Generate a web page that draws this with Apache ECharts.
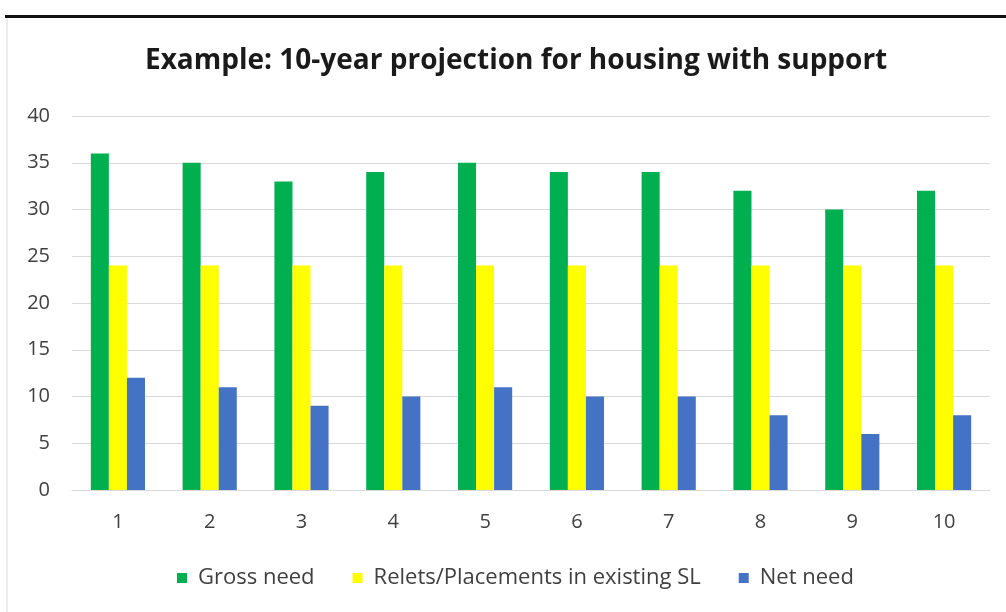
<!DOCTYPE html>
<html>
<head>
<meta charset="utf-8">
<script src="https://cdn.jsdelivr.net/npm/echarts@6/dist/echarts.min.js"></script>
<style>
  html, body { margin: 0; padding: 0; background: #ffffff; }
  #chart { width: 1006px; height: 612px; }
</style>
</head>
<body>
<div id="chart"></div>
<script>
// Ten-year projection: gross need, relets in existing supported lodgings, net need
const years = ['1', '2', '3', '4', '5', '6', '7', '8', '9', '10'];
const grossNeed = [36, 35, 33, 34, 35, 34, 34, 32, 30, 32];
const relets = [24, 24, 24, 24, 24, 24, 24, 24, 24, 24];
const netNeed = [12, 11, 9, 10, 11, 10, 10, 8, 6, 8];
const seriesNames = ['Gross need', 'Relets/Placements in existing SL', 'Net need'];
const seriesColors = ['#00b050', '#ffff00', '#4472c4'];

const chart = echarts.init(document.getElementById('chart'));
const font = '"Open Sans", "Noto Sans", sans-serif';

const barSeries = [grossNeed, relets, netNeed].map((data, i) => ({
  name: seriesNames[i],
  type: 'bar',
  data: data,
  itemStyle: { color: seriesColors[i] },
  barGap: '0%',
  barCategoryGap: '41%'
}));

chart.setOption({
  backgroundColor: '#ffffff',
  animation: false,
  textStyle: { fontFamily: font },
  graphic: [
    { type: 'rect', shape: { x: 7, y: 17, width: 1010, height: 600 },
      style: { fill: 'none', stroke: '#d9d9d9', lineWidth: 1 } },
    { type: 'rect', shape: { x: 5, y: 15, width: 1001, height: 3 },
      style: { fill: '#111111' } }
  ],
  title: {
    text: 'Example: 10-year projection for housing with support',
    left: 140,
    top: 42,
    textStyle: { fontFamily: font, fontSize: 28, fontWeight: 'bold', color: '#1a1a1a' }
  },
  legend: {
    bottom: 18,
    left: 172,
    itemWidth: 10,
    itemHeight: 10,
    itemGap: 38,
    icon: 'rect',
    textStyle: { fontFamily: font, fontSize: 22, color: '#404040', padding: [0, 0, 0, 6] },
    data: seriesNames
  },
  grid: { left: 72, right: 16, top: 116, bottom: 122 },
  xAxis: {
    type: 'category',
    data: years,
    axisTick: { show: false },
    axisLine: { lineStyle: { color: '#d9d9d9' } },
    axisLabel: { fontSize: 20, color: '#404040', margin: 22, fontFamily: font }
  },
  yAxis: {
    type: 'value',
    min: 0,
    max: 40,
    interval: 5,
    axisLine: { show: false },
    axisTick: { show: false },
    axisLabel: { fontSize: 20, color: '#404040', margin: 22, fontFamily: font },
    splitLine: { lineStyle: { color: '#d9d9d9' } }
  },
  series: barSeries
});
</script>
</body>
</html>
